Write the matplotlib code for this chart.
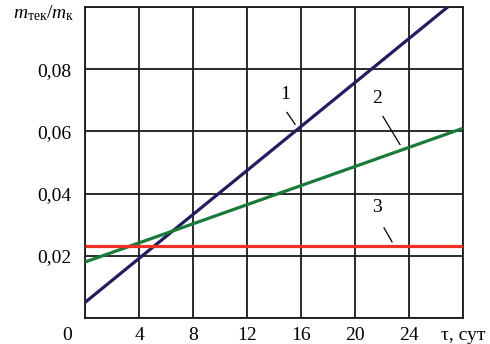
import matplotlib
matplotlib.use("Agg")
import matplotlib.pyplot as plt

# Data
x_line = [0, 28]
y_line1 = [0.005, 0.104]
y_line2 = [0.018, 0.061]
y_line3 = [0.023, 0.023]

x_ticks = [0, 4, 8, 12, 16, 20, 24, 28]
x_ticklabels = ["", "4", "8", "12", "16", "20", "24", "τ, сут"]
y_ticks = [0, 0.02, 0.04, 0.06, 0.08, 0.10]
y_ticklabels = ["", "0,02", "0,04", "0,06", "0,08", ""]

labels = ["1", "2", "3"]
label_pos = [(14.8, 0.0719), (21.6, 0.0706), (21.6, 0.0355)]
leaders = [((14.96, 0.0661), (15.56, 0.0623)),
           ((22.07, 0.0648), (23.33, 0.0558)),
           ((22.15, 0.0290), (22.74, 0.0245))]

plt.rcParams['font.family'] = ['Liberation Serif', 'DejaVu Serif']
plt.rcParams['mathtext.fontset'] = 'custom'
plt.rcParams['mathtext.rm'] = 'Liberation Serif'
plt.rcParams['mathtext.it'] = 'Liberation Serif:italic'

fig = plt.figure(figsize=(4.9, 3.44), dpi=100)
ax = fig.add_axes([85/490, 1-318/344, (463-85)/490, (318-7)/344])

ax.plot(x_line, y_line1, color='#221d5e', lw=2.3, solid_capstyle='butt', zorder=3)
ax.plot(x_line, y_line2, color='#1a7a3a', lw=2.3, solid_capstyle='butt', zorder=3)
ax.plot(x_line, y_line3, color='#ee3124', lw=2.3, solid_capstyle='butt', zorder=3)

ax.set_xlim(0, 28)
ax.set_ylim(0, 0.1)
ax.set_xticks(x_ticks)
ax.set_xticklabels(x_ticklabels)
ax.set_yticks(y_ticks)
ax.set_yticklabels(y_ticklabels)
ax.tick_params(length=0, labelsize=14, colors='black')
ax.tick_params(axis='x', pad=6.5)
ax.tick_params(axis='y', pad=9.5)
ax.grid(True, color='#1a1a1a', lw=1.3)
for s in ax.spines.values():
    s.set_color('#1a1a1a')
    s.set_linewidth(1.3)

for lab, (lx, ly), ((x0, y0), (x1, y1)) in zip(labels, label_pos, leaders):
    ax.text(lx, ly, lab, fontsize=14, ha='center', va='center')
    ax.plot([x0, x1], [y0, y1], color='black', lw=0.9)

# Origin label
ax.text(-13/378*28, -0.0, "0", fontsize=14, ha='right', va='top',
        transform=ax.transData, clip_on=False)
ax.texts[-1].set_position((-13/378*28, -9/311*0.1))

fig.text(13/490, 1-13/344, r"$m_{\mathrm{тек}}/m_{\mathrm{к}}$", fontsize=14,
         ha='left', va='center')

fig.savefig("out.png", dpi=100)
